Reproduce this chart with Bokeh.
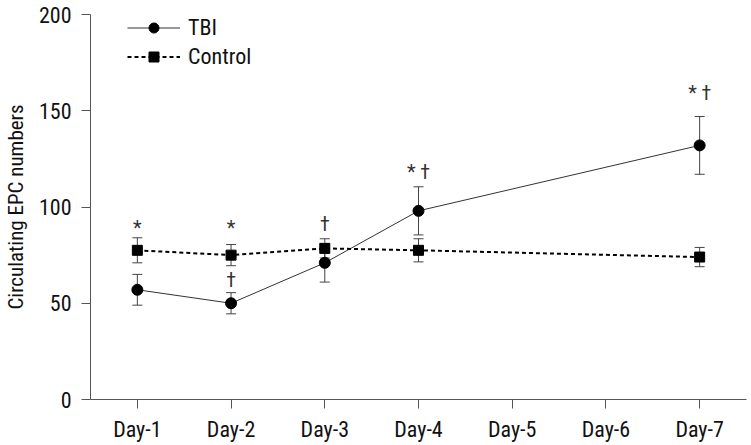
from bokeh.plotting import figure
from bokeh.models import ColumnDataSource, Whisker, TeeHead, Legend, LegendItem, FactorRange
from bokeh.core.properties import value
from bokeh.embed import file_html
from bokeh.resources import INLINE

days = ["Day-1", "Day-2", "Day-3", "Day-4", "Day-5", "Day-6", "Day-7"]
tbi_days = ["Day-1", "Day-2", "Day-3", "Day-4", "Day-7"]
tbi_mean = [57, 50, 71, 98, 132]
tbi_err = [8, 5.5, 10, 12.5, 15]
ctl_days = ["Day-1", "Day-2", "Day-3", "Day-4", "Day-7"]
ctl_mean = [77.5, 75, 78.5, 77.5, 74]
ctl_err = [6.5, 5.5, 5, 6, 5]
ann_days = ["Day-1", "Day-2", "Day-2", "Day-3", "Day-4", "Day-7"]
ann_vals = [89, 89, 62, 91, 118, 159]
ann_text = ["*", "*", "\u2020", "\u2020", "* \u2020", "* \u2020"]

FONT = "'Liberation Sans Narrow', 'Arial Narrow', 'Roboto Condensed', Roboto, sans-serif"

p = figure(width=750, height=444, x_range=FactorRange(*days, range_padding=0),
           y_range=(0, 200), output_backend="svg", toolbar_location=None,
           min_border_left=90, min_border_right=4, min_border_top=14, min_border_bottom=44)
p.outline_line_color = None
p.xgrid.grid_line_color = None
p.ygrid.grid_line_color = None
p.background_fill_color = None
p.border_fill_color = "white"

tbi_src = ColumnDataSource(dict(x=tbi_days, y=tbi_mean,
                                up=[m + e for m, e in zip(tbi_mean, tbi_err)],
                                lo=[m - e for m, e in zip(tbi_mean, tbi_err)]))
ctl_src = ColumnDataSource(dict(x=ctl_days, y=ctl_mean,
                                up=[m + e for m, e in zip(ctl_mean, ctl_err)],
                                lo=[m - e for m, e in zip(ctl_mean, ctl_err)]))

for src in (tbi_src, ctl_src):
    w = Whisker(source=src, base="x", upper="up", lower="lo", line_color="#444", line_width=1,
                upper_head=TeeHead(size=10, line_color="#444", line_width=1),
                lower_head=TeeHead(size=10, line_color="#444", line_width=1))
    p.add_layout(w)

l1 = p.line("x", "y", source=tbi_src, line_color="#333", line_width=1)
m1 = p.scatter("x", "y", source=tbi_src, marker="circle", size=11, fill_color="black", line_color="black")
l2 = p.line("x", "y", source=ctl_src, line_color="black", line_width=2, line_dash="4 3")
m2 = p.scatter("x", "y", source=ctl_src, marker="square", size=10, fill_color="black", line_color="black")

ann_src = ColumnDataSource(dict(x=ann_days, y=ann_vals, t=ann_text))
p.text("x", "y", text="t", source=ann_src, text_align="center", text_baseline="middle",
       text_font=value(FONT), text_font_size="20px", text_color="#333")

legend = Legend(items=[LegendItem(label="TBI", renderers=[l1, m1]),
                       LegendItem(label="Control", renderers=[l2, m2])],
                location=(37, 330), glyph_width=53, glyph_height=25, spacing=4,
                padding=0, margin=0, label_standoff=8, border_line_color=None,
                background_fill_alpha=0, label_text_font=FONT, label_text_font_size="22px",
                label_text_color="#111")
p.add_layout(legend)

for ax in (p.xaxis[0], p.yaxis[0]):
    ax.axis_line_color = "#555"
    ax.major_tick_line_color = "#555"
    ax.minor_tick_line_color = None
    ax.major_tick_in = 0
    ax.major_tick_out = 9
    ax.major_label_text_font = FONT
    ax.major_label_text_font_size = "22px"
    ax.major_label_text_color = "#111"

p.yaxis.ticker = [0, 50, 100, 150, 200]
p.yaxis.major_label_standoff = 10
p.yaxis.axis_label = "Circulating EPC numbers"
p.yaxis.axis_label_text_font = FONT
p.yaxis.axis_label_text_font_size = "21px"
p.yaxis.axis_label_text_font_style = "normal"
p.yaxis.axis_label_text_color = "#111"
p.yaxis.axis_label_standoff = 8
p.xaxis.major_label_standoff = 8

open("out.html", "w").write(file_html(p, INLINE))
